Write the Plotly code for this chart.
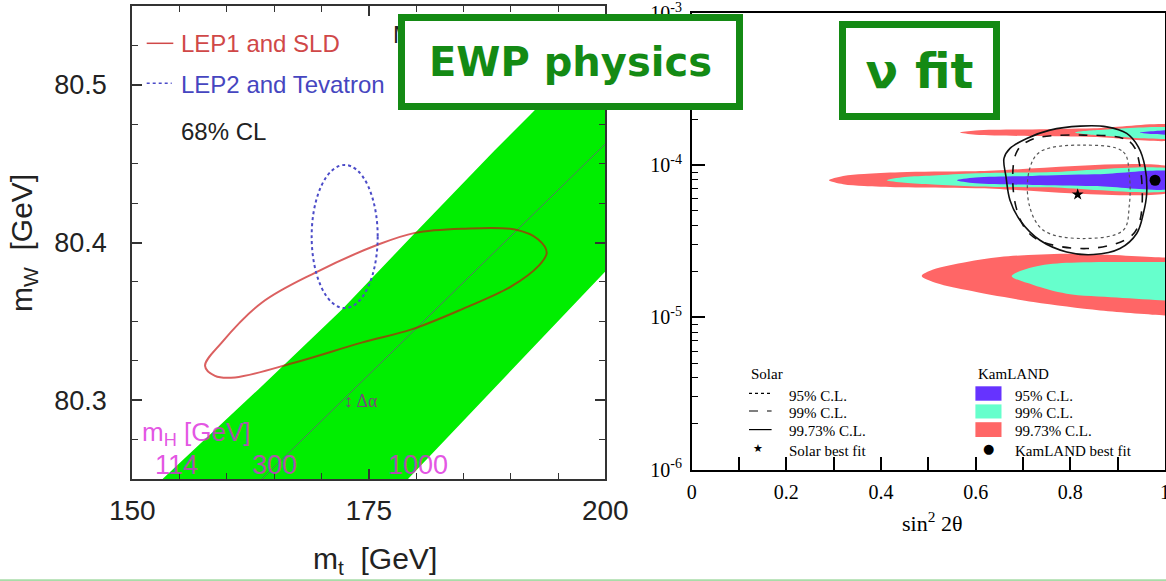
import plotly.graph_objects as go

W, H = 1166, 581

# ---------------- left panel: m_W vs m_t (GeV) ----------------
band_up_mt = [151.5, 153.28, 163.32, 172.14, 179.88, 188.34, 192.04, 200.07, 203.0]
band_up_mw = [80.24, 80.2504, 80.3068, 80.3574, 80.406, 80.4587, 80.4808, 80.5302, 80.548]
band_lo_mt = [203.0, 199.97, 179.14, 177.56]
band_lo_mw = [80.4006, 80.3815, 80.25, 80.24]

higgs_line_mt = [163.7, 200.0]
higgs_line_mw = [80.25, 80.4625]

lep1_mt = [157.69, 158.74, 160.86, 167.2, 174.25, 179.53, 184.82, 190.1, 192.92, 193.81,
           192.92, 190.46, 184.82, 179.88, 176.0, 169.31, 163.68, 159.45]
lep1_mw = [80.3217, 80.3154, 80.3144, 80.3239, 80.3365, 80.3449, 80.3576, 80.3723, 80.385, 80.3935,
           80.4019, 80.4082, 80.4087, 80.4061, 80.3987, 80.3808, 80.3618, 80.3365]

lep2_center = (172.45, 80.4038)
lep2_radius = (3.49, 0.0454)

mh_labels = ["114", "300", "1000"]
mh_label_mt = [154.67, 165.08, 180.25]
mh_label_mw = 80.2587

left_xticks = [150, 175, 200]
left_yticks = [80.3, 80.4, 80.5]

# ---------------- right panel: dm^2 vs sin^2 2theta ----------------
kl9973_top_s = [0.567, 0.60, 0.72, 0.85, 1.03, 1.03, 0.85, 0.72, 0.60]
kl9973_top_d = [1.637e-4, 1.69e-4, 1.718e-4, 1.75e-4, 1.79e-4, 1.50e-4, 1.531e-4, 1.552e-4, 1.585e-4]
kl99_top_s = [0.81, 0.86, 1.03, 1.03, 0.86]
kl99_top_d = [1.64e-4, 1.70e-4, 1.715e-4, 1.54e-4, 1.57e-4]
kl95_top_s = [0.947, 0.98, 1.03, 1.03, 0.98]
kl95_top_d = [1.635e-4, 1.68e-4, 1.685e-4, 1.60e-4, 1.60e-4]

kl9973_mid_s = [0.29, 0.32, 0.364, 0.44, 0.6, 1.03, 1.03, 0.6, 0.44, 0.364, 0.32]
kl9973_mid_d = [7.96e-5, 8.5e-5, 8.75e-5, 9.0e-5, 9.13e-5, 9.27e-5, 6.95e-5, 7.06e-5, 7.15e-5, 7.3e-5, 7.5e-5]
kl99_mid_s = [0.412, 0.45, 0.51, 0.6, 0.75, 1.03, 1.03, 0.75, 0.6, 0.51, 0.45]
kl99_mid_d = [7.95e-5, 8.35e-5, 8.55e-5, 8.85e-5, 9.0e-5, 9.05e-5, 7.08e-5, 7.15e-5, 7.25e-5, 7.45e-5, 7.65e-5]
kl95_mid_s = [0.56, 0.6, 0.72, 0.85, 1.03, 1.03, 0.85, 0.72, 0.6]
kl95_mid_d = [7.96e-5, 8.3e-5, 8.5e-5, 8.7e-5, 8.82e-5, 7.2e-5, 7.3e-5, 7.42e-5, 7.6e-5]

kl9973_low_s = [0.486, 0.51, 0.581, 0.651, 0.792, 1.0, 1.03, 1.03, 1.0, 0.863, 0.722, 0.581, 0.51]
kl9973_low_d = [1.87e-5, 2.06e-5, 2.31e-5, 2.49e-5, 2.62e-5, 2.47e-5, 2.45e-5, 1.02e-5, 1.03e-5, 1.11e-5, 1.26e-5, 1.51e-5, 1.71e-5]
kl99_low_s = [0.676, 0.722, 0.792, 1.0, 1.03, 1.03, 1.0, 0.898, 0.792, 0.722]
kl99_low_d = [1.87e-5, 2.14e-5, 2.28e-5, 2.31e-5, 2.31e-5, 1.28e-5, 1.29e-5, 1.35e-5, 1.43e-5, 1.63e-5]

sol9973_s = [0.8204, 0.757, 0.7078, 0.6725, 0.6598, 0.6641, 0.6725, 0.6936, 0.7359, 0.7923,
             0.8485, 0.9049, 0.9402, 0.9542, 0.9613, 0.9577, 0.9436, 0.9191, 0.8768]
sol9973_d = [1.805e-4, 1.699e-4, 1.499e-4, 1.288e-4, 1.107e-4, 8.38e-5, 5.885e-5, 4.345e-5, 3.21e-5, 2.689e-5,
             2.585e-5, 2.831e-5, 3.554e-5, 4.81e-5, 6.51e-5, 9.745e-5, 1.319e-4, 1.616e-4, 1.786e-4]
sol99_s = [0.8274, 0.926, 0.9472, 0.9472, 0.926, 0.8346, 0.7217, 0.6852, 0.6852, 0.7148]
sol99_d = [1.576e-4, 1.423e-4, 9.745e-5, 4.345e-5, 3.375e-5, 2.831e-5, 3.375e-5, 5.318e-5, 1.194e-4, 1.46e-4]
sol95_s = [0.8274, 0.9119, 0.9246, 0.9246, 0.9119, 0.8274, 0.7429, 0.7133, 0.7133, 0.7359]
sol95_d = [1.354e-4, 1.223e-4, 8.6e-5, 5.455e-5, 3.736e-5, 3.295e-5, 3.736e-5, 5.455e-5, 9.27e-5, 1.223e-4]

solar_best = (0.8155, 6.415e-5)
kamland_best = (0.979, 7.96e-5)

right_xticks = [0, 0.2, 0.4, 0.6, 0.8, 1]
right_xticklabels = ["0", "0.2", "0.4", "0.6", "0.8", "1"]
right_yticks = [1e-6, 1e-5, 1e-4, 1e-3]
right_yticklabels = ["10<sup>-6</sup>", "10<sup>-5</sup>", "10<sup>-4</sup>", "10<sup>-3</sup>"]

CL_labels = ["95% C.L.", "99% C.L.", "99.73% C.L."]

# colours
GREEN_BAND = "#00ee00"
RED_CL = "rgba(200,10,10,0.65)"
BLUE_CL = "#4b4bc8"
KL_BLUE = "#6633ff"
KL_CYAN = "#66ffcc"
KL_RED = "#ff6666"
BOX_GREEN = "#148a14"
MAGENTA = "rgba(220,40,220,0.8)"


def px(x):
    return x / W


def py(y):
    return 1 - y / H


def closed(a):
    return list(a) + [a[0]]


fig = go.Figure()

# --- left panel traces
fig.add_trace(go.Scatter(x=band_up_mt + band_lo_mt, y=band_up_mw + band_lo_mw, fill="toself",
                         fillcolor=GREEN_BAND, line=dict(width=0), mode="lines",
                         xaxis="x", yaxis="y", hoverinfo="skip", showlegend=False))
fig.add_trace(go.Scatter(x=higgs_line_mt, y=higgs_line_mw, mode="lines",
                         line=dict(color="rgba(120,70,140,0.7)", width=1),
                         xaxis="x", yaxis="y", hoverinfo="skip", showlegend=False))
fig.add_trace(go.Scatter(x=closed(lep1_mt), y=closed(lep1_mw), mode="lines",
                         line=dict(color=RED_CL, width=2, shape="spline", smoothing=1.0),
                         xaxis="x", yaxis="y", hoverinfo="skip", showlegend=False))

# --- right panel traces
def band(s, d, color):
    fig.add_trace(go.Scatter(x=closed(s), y=closed(d), fill="toself", fillcolor=color,
                             mode="lines", line=dict(width=0, shape="spline", smoothing=0.9),
                             xaxis="x2", yaxis="y2", hoverinfo="skip", showlegend=False))


band(kl9973_top_s, kl9973_top_d, KL_RED)
band(kl99_top_s, kl99_top_d, KL_CYAN)
band(kl95_top_s, kl95_top_d, KL_BLUE)
band(kl9973_mid_s, kl9973_mid_d, KL_RED)
band(kl99_mid_s, kl99_mid_d, KL_CYAN)
band(kl95_mid_s, kl95_mid_d, KL_BLUE)
band(kl9973_low_s, kl9973_low_d, KL_RED)
band(kl99_low_s, kl99_low_d, KL_CYAN)

for s, d, dash, wd, col in [(sol95_s, sol95_d, "dot", 1.2, "#555"),
                            (sol99_s, sol99_d, "dash", 1.6, "#111"),
                            (sol9973_s, sol9973_d, "solid", 1.6, "#111")]:
    fig.add_trace(go.Scatter(x=closed(s), y=closed(d), mode="lines",
                             line=dict(color=col, width=wd, dash=dash, shape="spline", smoothing=1.0),
                             xaxis="x2", yaxis="y2", hoverinfo="skip", showlegend=False))

fig.add_trace(go.Scatter(x=[solar_best[0]], y=[solar_best[1]], mode="markers",
                         marker=dict(symbol="star", size=9, color="black"),
                         xaxis="x2", yaxis="y2", hoverinfo="skip", showlegend=False))
fig.add_trace(go.Scatter(x=[kamland_best[0]], y=[kamland_best[1]], mode="markers",
                         marker=dict(symbol="circle", size=11, color="black"),
                         xaxis="x2", yaxis="y2", hoverinfo="skip", showlegend=False))

# --- axes
lax = dict(showline=True, linecolor="#333", linewidth=2, mirror="ticks", ticks="inside",
           tickcolor="#333", tickwidth=1.5, showgrid=False, zeroline=False, automargin=False)
fig.update_layout(
    xaxis=dict(lax, domain=[px(132.3), px(605.3)], range=[150, 200], tickvals=left_xticks,
               ticklen=10, ticklabelstandoff=5,
               tickfont=dict(family="Liberation Sans", size=28, color="#222"),
               minor=dict(dtick=5, ticks="inside", ticklen=6, tickcolor="#333", tickwidth=1.2),
               anchor="y"),
    yaxis=dict(lax, domain=[py(479), py(6)], range=[80.25, 80.55], tickvals=left_yticks,
               tickformat=".1f", ticklen=10, ticklabelstandoff=18,
               tickfont=dict(family="Liberation Sans", size=27, color="#222"),
               minor=dict(dtick=0.025, ticks="inside", ticklen=6, tickcolor="#333", tickwidth=1.2),
               anchor="x"),
    xaxis2=dict(showline=True, linecolor="black", linewidth=1.5, mirror=True, ticks="inside",
                tickcolor="black", tickwidth=1.5, ticklen=13, showgrid=False, zeroline=False,
                automargin=False, ticklabeloverflow="allow",
                domain=[px(691.7), px(1165)], range=[0, 1], tickvals=right_xticks,
                ticktext=right_xticklabels, ticklabelstandoff=4,
                tickfont=dict(family="Liberation Serif", size=20, color="black"),
                minor=dict(dtick=0.1, ticks="inside", ticklen=13, tickcolor="black", tickwidth=1.5),
                anchor="y2"),
    yaxis2=dict(type="log", showline=True, linecolor="black", linewidth=1.5, mirror=True,
                ticks="inside", tickcolor="black", tickwidth=1.5, ticklen=14, showgrid=False,
                zeroline=False, automargin=False, ticklabeloverflow="allow",
                domain=[py(469.5), py(13)], range=[-6, -3],
                tickvals=right_yticks, ticktext=right_yticklabels, ticklabelstandoff=4,
                tickfont=dict(family="Liberation Serif", size=20, color="black"),
                minor=dict(dtick="D1", ticks="inside", ticklen=7, tickcolor="black", tickwidth=1.2),
                anchor="x2"),
)

shapes = []
# LEP2 ellipse (dotted)
shapes.append(dict(type="circle", xref="x", yref="y", layer="above",
                   x0=lep2_center[0] - lep2_radius[0], x1=lep2_center[0] + lep2_radius[0],
                   y0=lep2_center[1] - lep2_radius[1], y1=lep2_center[1] + lep2_radius[1],
                   line=dict(color=BLUE_CL, width=2, dash="dot")))
# left legend samples
shapes.append(dict(type="line", xref="paper", yref="paper", x0=px(146.7), x1=px(173.3),
                   y0=py(43.3), y1=py(43.3), line=dict(color="#d04848", width=1.5)))
shapes.append(dict(type="line", xref="paper", yref="paper", x0=px(146.7), x1=px(171.7),
                   y0=py(83.3), y1=py(83.3), line=dict(color=BLUE_CL, width=1.5, dash="dot")))
# right legend samples
for yy, dash in [(393.3, "dot"), (411, "dash"), (429.6, "solid")]:
    shapes.append(dict(type="line", xref="paper", yref="paper", x0=px(749), x1=px(771.6),
                       y0=py(yy), y1=py(yy), line=dict(color="black", width=1.2, dash=dash)))
for (y0, y1), col in zip([(386.3, 400.7), (404.4, 418.5), (422.2, 437)], [KL_BLUE, KL_CYAN, KL_RED]):
    shapes.append(dict(type="rect", xref="paper", yref="paper", x0=px(975.4), x1=px(1001.5),
                       y0=py(y1), y1=py(y0), fillcolor=col, line=dict(width=0)))
# slide background strip at the bottom
shapes.append(dict(type="rect", xref="paper", yref="paper", x0=0, x1=1, y0=0, y1=py(579.3),
                   fillcolor="#a8dca8", line=dict(width=0)))

ann = []


def text(x, y, t, size, color="black", family="Liberation Sans", xanchor="left", **kw):
    ann.append(dict(x=px(x), y=py(y), xref="paper", yref="paper", text=t, showarrow=False,
                    xanchor=xanchor, yanchor="middle",
                    font=dict(family=family, size=size, color=color), **kw))


# left panel texts
text(179, 44, "LEP1 and SLD", 24, "#d04848")
text(179, 84, "LEP2 and Tevatron", 24, "#4646c0")
text(179, 131, "68% CL", 24, "#222")
text(391, 35, "M", 24, "#222")
text(140, 433, "m<sub>H</sub> [GeV]", 26, MAGENTA)
for lab, mt in zip(mh_labels, mh_label_mt):
    ann.append(dict(x=mt, y=mh_label_mw, xref="x", yref="y", text=lab, showarrow=False,
                    xanchor="center", yanchor="middle",
                    font=dict(family="Liberation Sans", size=27, color=MAGENTA)))
text(342, 401, "↕ Δα", 18, "#7a4a7a", family="Liberation Serif")
text(375, 560, "m<sub>t</sub>  [GeV]", 30, "#222", xanchor="center")
text(24, 243, "m<sub>W</sub>  [GeV]", 30, "#222", xanchor="center", textangle=-90)

# right panel texts
SERIF = "Liberation Serif"
text(931.5, 522, "sin<sup>2</sup> 2θ", 22, family=SERIF, xanchor="center")
text(749, 374, "Solar", 15, family=SERIF)
for yy, lab in zip([395.6, 413, 430.7], CL_labels):
    text(786.5, yy, lab, 15, family=SERIF)
    text(1013, yy, lab, 15, family=SERIF)
text(786.5, 450.7, "Solar best fit", 15, family=SERIF)
text(758.3, 448, "★", 11, family="DejaVu Sans", xanchor="center")
text(976, 374, "KamLAND", 15, family=SERIF)
text(988.6, 448, "●", 13, family="DejaVu Sans", xanchor="center")
text(1013, 450.7, "KamLAND best fit", 15, family=SERIF)

# green title boxes (drawn last so they cover what is underneath)
for (x0, y0, x1, y1), t, size in [((398, 14, 743, 110), "<b>EWP physics</b>", 40),
                                  ((839, 21, 1000, 120), "<b>ν fit</b>", 48)]:
    bw = 7
    ann.append(dict(x=px(x0), y=py(y0), xref="paper", yref="paper", text=t, showarrow=False,
                    xanchor="left", yanchor="top", width=(x1 - x0) - 2 * bw,
                    height=(y1 - y0) - 2 * bw, borderwidth=bw, borderpad=0,
                    bordercolor=BOX_GREEN, bgcolor="white", align="center", valign="middle",
                    font=dict(family="DejaVu Sans", size=size, color=BOX_GREEN)))

fig.update_layout(width=W, height=H, margin=dict(l=0, r=0, t=0, b=0, autoexpand=False),
                  paper_bgcolor="white", plot_bgcolor="white",
                  shapes=shapes, annotations=ann, showlegend=False)

fig.write_html("out.html", config={"displayModeBar": False},
               post_script="document.body.style.margin='0px';document.body.style.overflow='hidden';")
